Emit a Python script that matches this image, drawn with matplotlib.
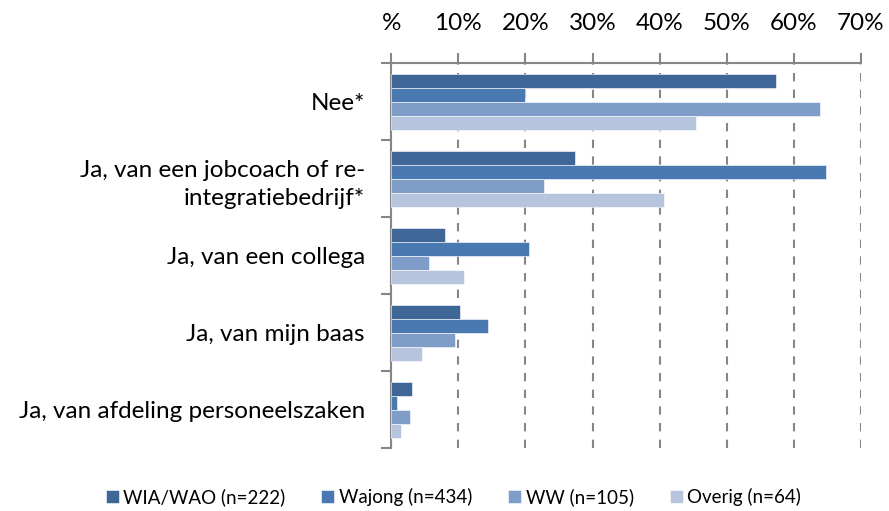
import numpy as np
import matplotlib.pyplot as plt
from matplotlib.ticker import FixedLocator

plt.rcParams['font.family'] = ['Lato', 'DejaVu Sans']

# Data
categories = ['Nee*', 'Ja, van een jobcoach of re-\nintegratiebedrijf*', 'Ja, van een collega',
              'Ja, van mijn baas', 'Ja, van afdeling personeelszaken']
series = ['WIA/WAO (n=222)', 'Wajong (n=434)', 'WW (n=105)', 'Overig (n=64)']
wia = [57.3, 27.4, 8.0, 10.3, 3.1]
wajong = [20.0, 64.8, 20.5, 14.5, 0.85]
ww = [63.9, 22.8, 5.7, 9.5, 2.8]
overig = [45.4, 40.6, 10.9, 4.6, 1.5]
tick_labels = ['%', '10%', '20%', '30%', '40%', '50%', '60%', '70%']
colors = ['#3E6696', '#4A78B0', '#7F9DC9', '#B6C4DE']

fig = plt.figure(figsize=(8.89, 5.11), dpi=100)
ax = fig.add_axes([0.44, 0.123, 0.5285, 0.753])

y = np.arange(len(categories))
h = 0.182
for i, (vals, c, name) in enumerate(zip([wia, wajong, ww, overig], colors, series)):
    ax.barh(y + (i - 1.5) * h, vals, height=h, color=c, label=name,
            edgecolor='white', linewidth=0.4, zorder=3)

ax.set_xlim(0, 70)
ax.set_ylim(len(categories) - 0.5, -0.5)
ax.xaxis.tick_top()
ax.set_xticks(np.arange(0, 71, 10))
ax.set_xticklabels(tick_labels, fontsize=17.5)
ax.tick_params(axis='x', length=7, width=1.5, color='#868686', pad=14)
ax.grid(axis='x', color='#868686', linestyle=(0, (4, 4)), linewidth=1.5, zorder=0)

ax.set_yticks(y)
ax.set_yticklabels(categories, fontsize=17.5, linespacing=1.4)
ax.yaxis.set_minor_locator(FixedLocator(np.arange(-0.5, len(categories), 1)))
ax.tick_params(axis='y', which='major', length=0, pad=19)
ax.tick_params(axis='y', which='minor', length=7, width=1.5, color='#868686')

for s in ['right', 'bottom']:
    ax.spines[s].set_visible(False)
for s in ['top', 'left']:
    ax.spines[s].set_color('#868686')
    ax.spines[s].set_linewidth(1.5)

fig.legend(loc='lower center', bbox_to_anchor=(0.51, -0.024), ncol=4, frameon=False,
           fontsize=13.5, handlelength=0.7, handleheight=0.7, handletextpad=0.25,
           columnspacing=1.9)

fig.savefig('out.png', dpi=100)
